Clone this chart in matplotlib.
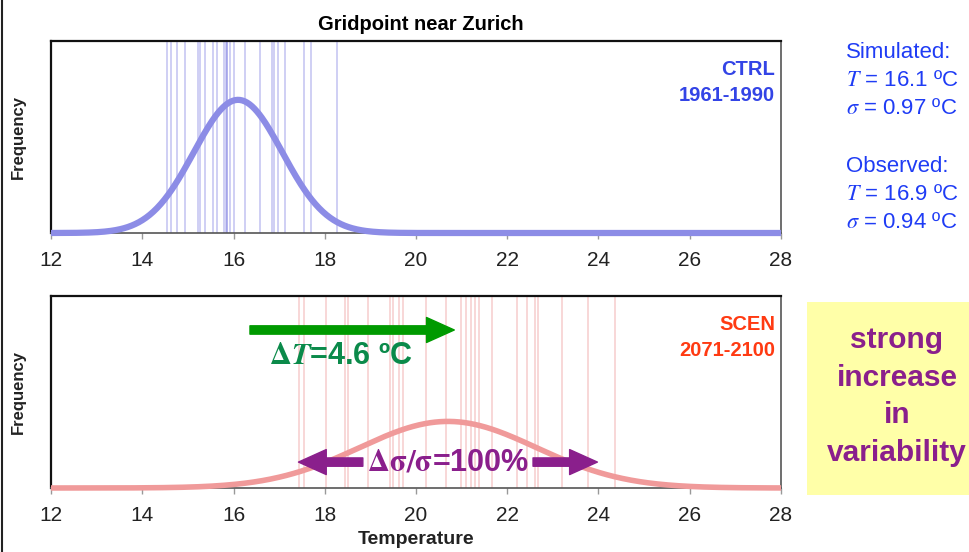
import numpy as np
import matplotlib
matplotlib.use("Agg")
import matplotlib.pyplot as plt
from matplotlib.patches import FancyArrowPatch, Rectangle
from matplotlib.lines import Line2D

plt.rcParams['font.family'] = ['Liberation Sans', 'DejaVu Sans']
plt.rcParams['mathtext.fontset'] = 'stix'

# --- data ---
xticks = [12, 14, 16, 18, 20, 22, 24, 26, 28]

ctrl_mean, ctrl_sd = 16.1, 0.97
scen_mean, scen_sd = 20.7, 1.94      # +4.6 degC, sigma doubled

# single years (vertical lines)
ctrl_years = [14.55, 14.62, 14.77, 14.94, 15.22, 15.27, 15.38, 15.56, 15.63,
              15.79, 15.84, 15.85, 15.86, 15.92, 16.00, 16.25, 16.58, 16.84,
              16.89, 16.98, 17.13, 17.55, 17.69, 18.26]
scen_years = [17.44, 17.55, 18.03, 18.44, 18.52, 18.94, 19.43, 19.49, 19.62,
              19.72, 20.21, 20.65, 20.98, 21.10, 21.21, 21.29, 21.39, 21.66,
              22.22, 22.44, 22.61, 22.68, 23.19, 23.76, 24.36]

sim_label = ["Simulated:", "$T$ = 16.1 ºC", "$\\sigma$ = 0.97 ºC"]
obs_label = ["Observed:", "$T$ = 16.9 ºC", "$\\sigma$ = 0.94 ºC"]
box_lines = ["strong", "increase", "in", "variability"]


def gauss(x, m, s):
    return np.exp(-0.5 * ((x - m) / s) ** 2) / (s * np.sqrt(2 * np.pi))


W, H = 970, 552
fig = plt.figure(figsize=(W / 100, H / 100), dpi=100)
fig.patch.set_facecolor('white')


def fx(px):
    return px / W


def fy(py):
    return 1 - py / H


ax1 = fig.add_axes([fx(51), fy(233), fx(730), 192 / H])
ax2 = fig.add_axes([fx(51), fy(488), fx(730), 192 / H])

x = np.linspace(12, 28, 600)
ymax = 0.593

panels = [
    (ax1, ctrl_years, ctrl_mean, ctrl_sd, '#9090e6', '#8c8ce6', 4.5, 0.55,
     ["CTRL", "1961-1990"], '#3344e6'),
    (ax2, scen_years, scen_mean, scen_sd, '#ee9a9a', '#f09a9a', 4.0, 0.5,
     ["SCEN", "2071-2100"], '#ff3a12'),
]

for ax, yrs, m, s, lcol, ccol, clw, lalpha, lab, labcol in panels:
    for v in yrs:
        ax.axvline(v, color=lcol, lw=1.1, alpha=lalpha, zorder=1)
    ax.plot(x, gauss(x, m, s), color=ccol, lw=clw, solid_capstyle='butt',
            clip_on=False, zorder=3)
    ax.set_xlim(12, 28)
    ax.set_ylim(0, ymax)
    ax.set_yticks([])
    ax.set_xticks(xticks)
    ax.tick_params(axis='x', length=4, width=1, color='#999999',
                   labelsize=15, pad=9, labelcolor='#222222')
    for side in ['top', 'left']:
        ax.spines[side].set_linewidth(1.6)
        ax.spines[side].set_color('#111111')
    for side in ['bottom', 'right']:
        ax.spines[side].set_linewidth(1.2)
        ax.spines[side].set_color('#555555')
    ax.text(0.992, 0.849, lab[0], transform=ax.transAxes, ha='right',
            va='center', fontsize=14.5, fontweight='bold', color=labcol)
    ax.text(0.992, 0.718, lab[1], transform=ax.transAxes, ha='right',
            va='center', fontsize=14.5, fontweight='bold', color=labcol)

# titles and axis labels
fig.text(fx(421), fy(25), "Gridpoint near Zurich", ha='center', va='center',
         fontsize=14.5, fontweight='bold')
fig.text(fx(416), fy(540), "Temperature", ha='center', va='center',
         fontsize=14, fontweight='bold', color='#222222')
for cy in [137, 392]:
    fig.text(fx(18), fy(cy), "Frequency", ha='center', va='center',
             rotation=90, fontsize=12, fontweight='bold', color='#222222')

# shift arrow
tr = ax2.get_xaxis_transform()
green = FancyArrowPatch((16.3, 0.823), (20.9, 0.823), transform=tr,
                        arrowstyle='simple,head_length=2.0,head_width=1.8,tail_width=0.6',
                        mutation_scale=10, color='#009a00', zorder=5,
                        clip_on=False)
ax2.add_patch(green)
ax2.text(18.36, 0.69, "$\\mathbf{\\Delta}\\mathbfit{T}$=4.6 ºC",
         transform=tr, ha='center', va='center', fontsize=22,
         fontweight='bold', color='#0b8a4a', zorder=6)

# spread arrows
purple = '#8a1f8c'
half = 1.72 * scen_sd
for a, b in [(scen_mean - 0.93 * scen_sd, scen_mean - half),
             (scen_mean + 0.93 * scen_sd, scen_mean + half)]:
    ax2.add_patch(FancyArrowPatch((a, 0.135), (b, 0.135), transform=tr,
                                  arrowstyle='simple,head_length=2.0,head_width=1.8,tail_width=0.6',
                                  mutation_scale=10, color=purple, zorder=5))
ax2.text(scen_mean, 0.135, "$\\mathbf{\\Delta\\sigma/\\sigma}$=100%",
         transform=tr, ha='center', va='center', fontsize=22,
         fontweight='bold', color=purple, zorder=6)

# statistics text on the right
blue = '#1f3cf5'
for lines, y0 in [(sim_label, 52), (obs_label, 167)]:
    for i, t in enumerate(lines):
        fig.text(fx(846), fy(y0 + 28 * i), t, ha='left', va='center',
                 fontsize=16, color=blue)

# yellow box
fig.patches.append(Rectangle((fx(807), fy(495)), fx(W - 807), 193 / H,
                             transform=fig.transFigure, facecolor='#ffffa8',
                             edgecolor='none', zorder=0))
for i, t in enumerate(box_lines):
    fig.text(fx(897), fy(340 + 37.7 * i), t, ha='center', va='center',
             fontsize=21.5, fontweight='bold', color=purple)

# slide border on the left
fig.add_artist(Line2D([fx(2), fx(2)], [0, 1], transform=fig.transFigure,
                      color='#222222', lw=1.5))

fig.savefig('out.png', dpi=100)
